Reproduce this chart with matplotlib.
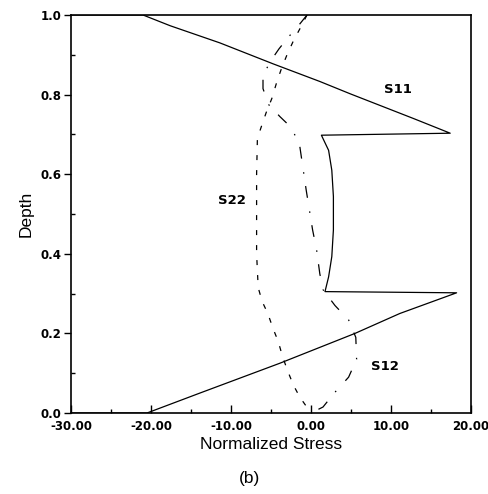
import matplotlib
matplotlib.use("Agg")
import matplotlib.pyplot as plt
from matplotlib.ticker import MultipleLocator, FormatStrFormatter

# S11 (solid) - normalized stress vs depth
s11_x = [-30, -21, -17.6, -11.4, -4.7, 1.1, 4.9, 12.8, 17.4,
         1.3, 2.2, 2.6, 2.8, 2.8, 2.6, 2.2, 1.75,
         18.2, 11.1, 5.5, -3.9, -13.9, -20.5, -30]
s11_y = [1.0, 1.0, 0.973, 0.93, 0.877, 0.833, 0.802, 0.74, 0.703,
         0.698, 0.66, 0.61, 0.544, 0.46, 0.393, 0.342, 0.305,
         0.302, 0.25, 0.20, 0.125, 0.05, 0.0, 0.0]

# S22 (dashed)
s22_x = [-0.5, -1.4, -2.2, -3.0, -3.7, -4.3, -4.9, -5.6, -6.2, -6.7, -6.8, -6.8,
         -6.6, -6.1, -5.4, -4.7, -4.1, -3.6, -3.0, -2.2, -1.4, 0.0]
s22_y = [1.0, 0.965, 0.935, 0.9, 0.865, 0.83, 0.79, 0.755, 0.72, 0.69, 0.6, 0.4,
         0.315, 0.28, 0.25, 0.21, 0.18, 0.145, 0.11, 0.07, 0.04, 0.0]

# S12 (dash-dot)
s12_x = [-0.5, -1.5, -2.8, -4.0, -5.2, -6.0, -6.0, -5.3, -3.9, -2.4, -1.4, -1.0, -0.6,
         -0.2, 0.2, 0.7, 1.1, 1.5, 3.0, 4.7, 5.6, 5.7, 4.7, 2.9, 1.5, 0.0]
s12_y = [1.0, 0.975, 0.945, 0.915, 0.88, 0.845, 0.815, 0.775, 0.745, 0.716, 0.67, 0.615, 0.56,
         0.51, 0.46, 0.41, 0.35, 0.31, 0.27, 0.234, 0.19, 0.135, 0.09, 0.05, 0.015, 0.0]

labels = ["S11", "S22", "S12"]
label_pos = [(10.9, 0.812), (-9.9, 0.535), (9.3, 0.116)]

fig = plt.figure(figsize=(4.89, 4.94), dpi=100)
ax = fig.add_axes([71 / 489, 81 / 494, 400 / 489, 398 / 494])

ax.plot(s11_x, s11_y, color="black", lw=0.9)
ax.plot(s22_x, s22_y, color="black", lw=0.9, dashes=(4, 8))
ax.plot(s12_x, s12_y, color="black", lw=0.9, dashes=(9.5, 11, 1.2, 10))

for txt, (x, y) in zip(labels, label_pos):
    ax.text(x, y, txt, ha="center", va="center", fontsize=9.5, fontweight="bold")

ax.set_xlim(-30, 20)
ax.set_ylim(0, 1.0)
ax.xaxis.set_major_locator(MultipleLocator(10))
ax.xaxis.set_minor_locator(MultipleLocator(5))
ax.yaxis.set_major_locator(MultipleLocator(0.2))
ax.yaxis.set_minor_locator(MultipleLocator(0.1))
ax.xaxis.set_major_formatter(FormatStrFormatter("%.2f"))
ax.yaxis.set_major_formatter(FormatStrFormatter("%.1f"))

ax.tick_params(axis="x", which="major", direction="in", length=6, width=1, pad=5)
ax.tick_params(axis="x", which="minor", direction="in", length=3, width=1)
ax.tick_params(axis="y", which="major", direction="out", length=5, width=1, pad=2)
ax.tick_params(axis="y", which="minor", direction="in", length=3, width=1)
for lab in ax.get_xticklabels() + ax.get_yticklabels():
    lab.set_fontweight("bold")
    lab.set_fontsize(8.5)

for sp in ax.spines.values():
    sp.set_linewidth(1.2)

ax.set_xlabel("Normalized Stress", fontsize=12.5, family="Liberation Sans", labelpad=3)
ax.set_ylabel("Depth", fontsize=12.5, family="Liberation Sans", labelpad=5)
fig.text(250 / 489, 1 - 478 / 494, "(b)", ha="center", va="center",
         fontsize=12.5, family="Liberation Sans")

fig.savefig("out.png", dpi=100)
